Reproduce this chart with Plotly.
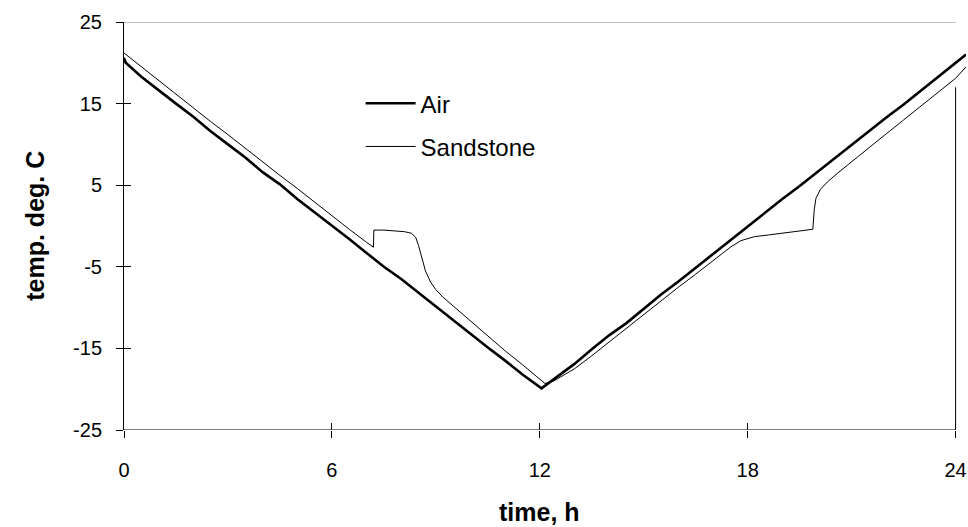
import plotly.graph_objects as go

# ---- data ----
air_t = [0, 0.05, 0.5, 1, 1.5, 2, 2.5, 3, 3.5, 4, 4.5, 5, 5.5, 6, 6.5, 7, 7.5, 8, 8.5, 9, 9.5, 10,
         10.5, 11, 11.5, 12.05, 12.3, 12.5, 13, 13.5, 14, 14.5, 15, 15.5, 16, 16.5, 17, 17.5, 18,
         18.5, 19, 19.5, 20, 20.5, 21, 21.5, 22, 22.5, 23, 23.5, 24, 24.3]
air_v = [20.6, 20.0, 18.3, 16.6, 15.0, 13.4, 11.6, 10.0, 8.4, 6.6, 5.1, 3.3, 1.7, 0.0, -1.6, -3.3,
         -5.0, -6.5, -8.2, -9.9, -11.6, -13.2, -14.9, -16.5, -18.2, -19.9, -19.1, -18.4, -16.9,
         -15.1, -13.4, -11.9, -10.1, -8.4, -6.8, -5.1, -3.4, -1.8, 0.0, 1.6, 3.3, 4.9, 6.6, 8.3,
         9.9, 11.6, 13.3, 14.9, 16.6, 18.3, 19.9, 21.0]

sand_t = [0, 0.5, 1, 1.5, 2, 2.5, 3, 3.5, 4, 4.5, 5, 5.5, 6, 6.5, 7, 7.2, 7.21, 7.5, 7.8, 8.1, 8.3,
          8.42, 8.5, 8.6, 8.7, 8.85, 9.0, 9.2, 9.5, 9.8, 10.2, 10.6, 11, 11.5, 12.1, 12.15, 12.4, 13,
          13.5, 14, 14.5, 15, 15.5, 16, 16.5, 17, 17.5, 17.8, 18.2, 18.6, 19, 19.4, 19.88, 19.92,
          19.97, 20.1, 20.3, 20.6, 21, 21.5, 22, 22.5, 23, 23.5, 24, 24.3]
sand_v = [21.2, 19.5, 17.8, 16.2, 14.5, 12.8, 11.2, 9.5, 7.9, 6.2, 4.6, 2.9, 1.3, -0.4, -2.0, -2.6,
          -0.5, -0.5, -0.6, -0.7, -0.9, -1.4, -2.4, -4.0, -5.5, -6.9, -7.8, -8.7, -9.8, -10.9, -12.4,
          -13.8, -15.3, -17.0, -19.2, -19.3, -19.0, -17.5, -15.9, -14.2, -12.6, -10.9, -9.2, -7.5,
          -5.9, -4.2, -2.6, -1.8, -1.3, -1.1, -0.9, -0.7, -0.4, 2.0, 3.4, 4.5, 5.4, 6.5, 7.9, 9.6,
          11.3, 13.0, 14.7, 16.4, 18.1, 19.5]

x_ticks = [0, 6, 12, 18, 24]
y_ticks = [-25, -15, -5, 5, 15, 25]
y_labels = ["-25", "-15", "-5", "5", "15", "25"]

FONT = "Liberation Sans, Arial, sans-serif"

fig = go.Figure()
fig.add_trace(go.Scatter(x=air_t, y=air_v, mode="lines", name="Air", legendgroup="a",
                         line=dict(color="black", width=2.6)))
fig.add_trace(go.Scatter(x=sand_t, y=sand_v, mode="lines", name="Sandstone", legendgroup="s",
                         line=dict(color="black", width=1)))

# frame lines
fig.add_shape(type="line", xref="x", yref="y", x0=0, x1=24, y0=-25, y1=-25,
              line=dict(color="black", width=1))
fig.add_shape(type="line", xref="x", yref="y", x0=0, x1=24, y0=25, y1=25,
              line=dict(color="#808080", width=1))
fig.add_shape(type="line", xref="x", yref="y", x0=24, x1=24, y0=-25, y1=17,
              line=dict(color="black", width=1))

fig.update_layout(
    width=968, height=527,
    margin=dict(l=124, r=2, t=22, b=97),
    plot_bgcolor="white", paper_bgcolor="white",
    font=dict(family=FONT, size=20, color="black"),
    showlegend=True,
    legend=dict(x=0.281, y=0.855, xanchor="left", yanchor="top", bgcolor="rgba(0,0,0,0)",
                font=dict(size=24), tracegroupgap=9, itemwidth=50),
    xaxis=dict(range=[0, 24.3], tickvals=x_ticks, ticktext=[str(v) for v in x_ticks],
               showgrid=False, zeroline=False, showline=False, ticks="outside", ticklen=7,
               tickcolor="black", ticklabelstandoff=15),
    yaxis=dict(range=[-25, 25], tickvals=y_ticks, ticktext=y_labels, showgrid=False,
               zeroline=False, showline=True, linecolor="black", linewidth=1, ticks="outside",
               ticklen=7, tickcolor="black", ticklabelstandoff=10),
    xaxis2=dict(range=[0, 24.3], overlaying="x", anchor="y", side="bottom", tickvals=x_ticks,
                showticklabels=False, showgrid=False, zeroline=False, ticks="inside", ticklen=7,
                tickcolor="black"),
    yaxis2=dict(range=[-25, 25], overlaying="y", anchor="x", side="left", tickvals=y_ticks,
                showticklabels=False, showgrid=False, zeroline=False, ticks="inside", ticklen=7,
                tickcolor="black"),
    annotations=[
        dict(text="<b>time, h</b>", xref="x", x=12, yref="paper", y=-0.201, showarrow=False,
             xanchor="center", yanchor="middle", font=dict(size=25)),
        dict(text="<b>temp. deg. C</b>", xref="paper", x=-0.106, yref="paper", y=0.5,
             showarrow=False, textangle=-90, xanchor="center", yanchor="middle",
             font=dict(size=25)),
    ],
)
# invisible trace to activate overlay axes
fig.add_trace(go.Scatter(x=[0], y=[0], xaxis="x2", yaxis="y2", mode="markers",
                         marker=dict(opacity=0), showlegend=False, hoverinfo="skip"))

fig.write_html("out.html")
